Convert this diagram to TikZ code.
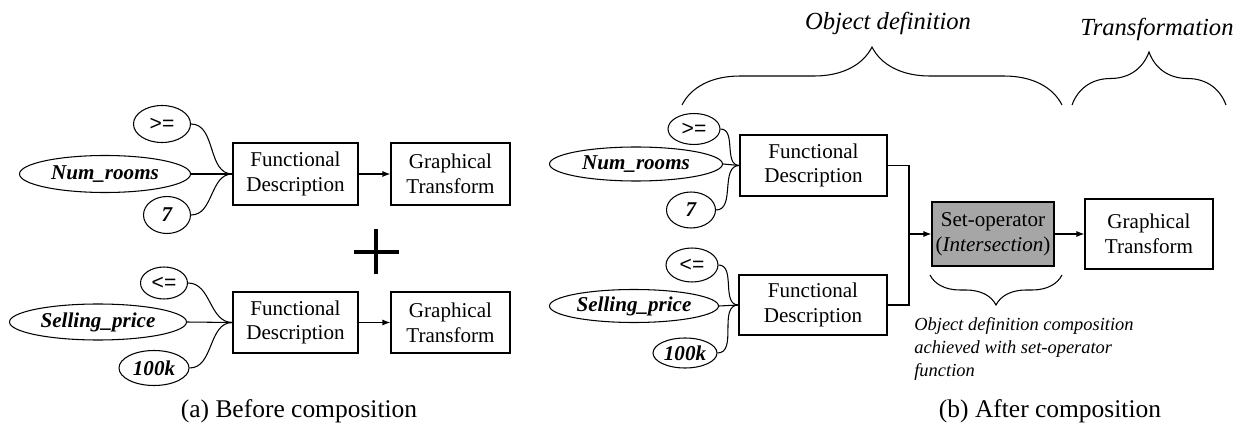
\documentclass[tikz,border=0pt]{standalone}
\usepackage{fontspec}
\setmainfont{Liberation Serif}
\setsansfont{Liberation Sans}
\usetikzlibrary{shapes.geometric,arrows.meta,decorations.pathreplacing}
\definecolor{setgray}{RGB}{166,166,166}
\begin{document}
\begin{tikzpicture}[x=0.02cm,y=0.02cm,
    every node/.style={font=\fontsize{12}{14}\selectfont},
    dims/.style 2 args={minimum width=#1*0.02cm,minimum height=#2*0.02cm},
    box/.style={draw,line width=0.7pt,align=center,inner sep=0pt},
    attr/.style={draw,ellipse,line width=0.6pt,inner sep=0pt,font=\fontsize{12}{14}\selectfont\bfseries\itshape},
    oper/.style={draw,ellipse,line width=0.6pt,inner sep=0pt,font=\sffamily\fontsize{12}{14}\selectfont},
    link/.style={line width=0.6pt},
    flow/.style={line width=0.6pt,-{Latex[length=4.5pt,width=3.4pt]}},
    brc/.style={decorate,line width=0.6pt},
    caption/.style={anchor=base,font=\fontsize{14.5}{17}\selectfont},
    header/.style={anchor=base,font=\fontsize{14}{17}\selectfont\itshape}]
  \useasboundingbox (0,0) rectangle (1249,-429);

  % (a) before composition
  \node[oper,dims={57}{37}] (ge1) at (162,-124) {>=};
  \node[attr,dims={171}{37}] (nr1) at (105,-174) {Num\_rooms};
  \node[attr,dims={47}{37}] (sv1) at (167,-215) {7};
  \node[box,dims={125}{62}] (fd1) at (295.5,-174) {Functional\\Description};
  \node[box,dims={119}{62}] (gt1) at (450.5,-174) {Graphical\\Transform};
  \draw[link] (ge1.east) to[out=0,in=180] (fd1.west);
  \draw[link] (nr1.east) -- (fd1.west);
  \draw[link] (sv1.east) to[out=0,in=180] (fd1.west);
  \draw[flow] (fd1) -- (gt1);

  \coordinate (plus) at (376,-252);
  \draw[line width=2.2pt] (plus) ++(-22.5,0) -- ++(45,0) (plus) ++(0,22.5) -- ++(0,-45);

  \node[oper,dims={47}{32}] (le1) at (164,-283) {<=};
  \node[attr,dims={177}{36}] (sp1) at (98,-322) {Selling\_price};
  \node[attr,dims={70}{35}] (pv1) at (154,-368) {100k};
  \node[box,dims={125}{61}] (fd2) at (295.5,-322.5) {Functional\\Description};
  \node[box,dims={119}{61}] (gt2) at (450.5,-322.5) {Graphical\\Transform};
  \draw[link] (le1.east) to[out=0,in=180] (fd2.west);
  \draw[link] (sp1.east) -- (fd2.west);
  \draw[link] (pv1.east) to[out=0,in=180] (fd2.west);
  \draw[flow] (fd2) -- (gt2);

  \node[caption] (capa) at (299,-418) {(a) Before composition};

  % (b) after composition
  \node[oper,dims={52}{31}] (ge2) at (694,-129) {>=};
  \node[attr,dims={173}{34}] (nr2) at (636,-164) {Num\_rooms};
  \node[attr,dims={49}{36}] (sv2) at (691,-210) {7};
  \node[box,dims={147}{61}] (fd3) at (813.5,-165.5) {Functional\\Description};
  \draw[link] (ge2.east) to[out=0,in=180] (fd3.west);
  \draw[link] (nr2.east) -- (fd3.west);
  \draw[link] (sv2.east) to[out=0,in=180] (fd3.west);

  \node[oper,dims={52}{34}] (le2) at (692,-265) {<=};
  \node[attr,dims={169}{33}] (sp2) at (634,-306) {Selling\_price};
  \node[attr,dims={64}{30}] (pv2) at (685,-353) {100k};
  \node[box,dims={148}{60}] (fd4) at (813,-305) {Functional\\Description};
  \draw[link] (le2.east) to[out=0,in=180] (fd4.west);
  \draw[link] (sp2.east) -- (fd4.west);
  \draw[link] (pv2.east) to[out=0,in=180] (fd4.west);

  \coordinate (join) at (909,-234);
  \node[box,fill=setgray,dims={122}{64}] (setop) at (993,-234) {Set-operator\\(\textit{Intersection})};
  \node[box,dims={128}{70}] (gt3) at (1149,-234) {Graphical\\Transform};
  \draw[link] (fd3.east) -| (join);
  \draw[link] (fd4.east) -| (join);
  \draw[flow] (join) -- (setop);
  \draw[flow] (setop) -- (gt3);

  \draw[brc,decoration={brace,amplitude=1.16cm}] (682,-105) -- (1062,-105);
  \draw[brc,decoration={brace,amplitude=1.06cm}] (1072,-105) -- (1226,-105);
  \draw[brc,decoration={brace,amplitude=0.6cm}] (1062,-275) -- (930,-275);
  \node[header] (hobj) at (888,-30) {Object definition};
  \node[header] (htr) at (1157,-36) {Transformation};
  \node[anchor=north west,align=left,inner sep=0pt,font=\fontsize{10.5}{13}\selectfont\itshape] (note) at (914,-317)
    {Object definition composition\\achieved with set-operator\\function};

  \node[caption] (capb) at (1050,-418) {(b) After composition};
\end{tikzpicture}
\end{document}
